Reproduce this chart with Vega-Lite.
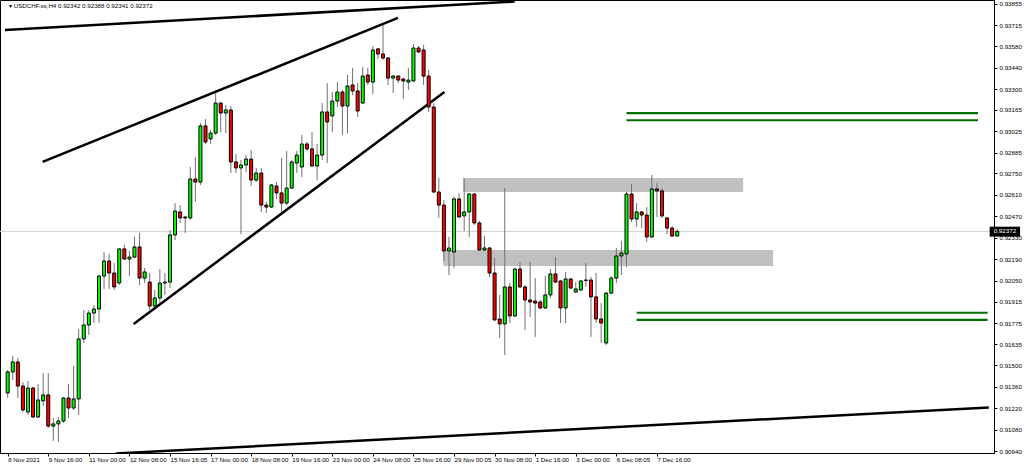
{
  "$schema": "https://vega.github.io/schema/vega-lite/v6.json",
  "width": 994,
  "height": 453,
  "autosize": {"type": "none"},
  "padding": {"left": 0, "top": 0, "right": 30, "bottom": 13},
  "background": "white",
  "config": {"view": {"stroke": "#000000", "strokeWidth": 1}, "font": "Liberation Sans"},
  "datasets": {
    "candles": [
      {"i":0,"o":0.91319,"h":0.91469,"l":0.91286,"c":0.91456},
      {"i":1,"o":0.91456,"h":0.91560,"l":0.91403,"c":0.91521},
      {"i":2,"o":0.91521,"h":0.91547,"l":0.91286,"c":0.91364},
      {"i":3,"o":0.91364,"h":0.91390,"l":0.91195,"c":0.91208},
      {"i":4,"o":0.91195,"h":0.91397,"l":0.91175,"c":0.91351},
      {"i":5,"o":0.91351,"h":0.91358,"l":0.91155,"c":0.91162},
      {"i":6,"o":0.91162,"h":0.91377,"l":0.91155,"c":0.91273},
      {"i":7,"o":0.91267,"h":0.91449,"l":0.91234,"c":0.91306},
      {"i":8,"o":0.91306,"h":0.91449,"l":0.91090,"c":0.91103},
      {"i":9,"o":0.91103,"h":0.91155,"l":0.91006,"c":0.91117},
      {"i":10,"o":0.91117,"h":0.91162,"l":0.90999,"c":0.91136},
      {"i":11,"o":0.91136,"h":0.91293,"l":0.91123,"c":0.91286},
      {"i":12,"o":0.91286,"h":0.91377,"l":0.91155,"c":0.91221},
      {"i":13,"o":0.91221,"h":0.91495,"l":0.91208,"c":0.91280},
      {"i":14,"o":0.91280,"h":0.91736,"l":0.91175,"c":0.91671},
      {"i":15,"o":0.91671,"h":0.91860,"l":0.91645,"c":0.91762},
      {"i":16,"o":0.91762,"h":0.91860,"l":0.91697,"c":0.91840},
      {"i":17,"o":0.91840,"h":0.91892,"l":0.91775,"c":0.91866},
      {"i":18,"o":0.91866,"h":0.92088,"l":0.91775,"c":0.92081},
      {"i":19,"o":0.92081,"h":0.92238,"l":0.91997,"c":0.92179},
      {"i":20,"o":0.92179,"h":0.92225,"l":0.91997,"c":0.92101},
      {"i":21,"o":0.92101,"h":0.92166,"l":0.91990,"c":0.92010},
      {"i":22,"o":0.92036,"h":0.92264,"l":0.92023,"c":0.92258},
      {"i":23,"o":0.92258,"h":0.92284,"l":0.92186,"c":0.92192},
      {"i":24,"o":0.92192,"h":0.92245,"l":0.92081,"c":0.92205},
      {"i":25,"o":0.92205,"h":0.92336,"l":0.92199,"c":0.92271},
      {"i":26,"o":0.92271,"h":0.92362,"l":0.92023,"c":0.92068},
      {"i":27,"o":0.92068,"h":0.92134,"l":0.92036,"c":0.92108},
      {"i":28,"o":0.92042,"h":0.92101,"l":0.91860,"c":0.91886},
      {"i":29,"o":0.91886,"h":0.91990,"l":0.91879,"c":0.91938},
      {"i":30,"o":0.91938,"h":0.92127,"l":0.91905,"c":0.92036},
      {"i":31,"o":0.92036,"h":0.92101,"l":0.91958,"c":0.92042},
      {"i":32,"o":0.92042,"h":0.92381,"l":0.92003,"c":0.92349},
      {"i":33,"o":0.92349,"h":0.92557,"l":0.92316,"c":0.92505},
      {"i":34,"o":0.92499,"h":0.92544,"l":0.92427,"c":0.92460},
      {"i":35,"o":0.92460,"h":0.92473,"l":0.92362,"c":0.92466},
      {"i":36,"o":0.92460,"h":0.92792,"l":0.92447,"c":0.92714},
      {"i":37,"o":0.92714,"h":0.92857,"l":0.92564,"c":0.92694},
      {"i":38,"o":0.92694,"h":0.93079,"l":0.92675,"c":0.93060},
      {"i":39,"o":0.93060,"h":0.93105,"l":0.92942,"c":0.92955},
      {"i":40,"o":0.92975,"h":0.93033,"l":0.92942,"c":0.93013},
      {"i":41,"o":0.93013,"h":0.93275,"l":0.93001,"c":0.93209},
      {"i":42,"o":0.93209,"h":0.93216,"l":0.93020,"c":0.93144},
      {"i":43,"o":0.93144,"h":0.93196,"l":0.93013,"c":0.93164},
      {"i":44,"o":0.93164,"h":0.93190,"l":0.92753,"c":0.92825},
      {"i":45,"o":0.92825,"h":0.92877,"l":0.92753,"c":0.92786},
      {"i":46,"o":0.92786,"h":0.92838,"l":0.92355,"c":0.92805},
      {"i":47,"o":0.92805,"h":0.92870,"l":0.92760,"c":0.92844},
      {"i":48,"o":0.92844,"h":0.92903,"l":0.92668,"c":0.92707},
      {"i":49,"o":0.92707,"h":0.92786,"l":0.92694,"c":0.92753},
      {"i":50,"o":0.92753,"h":0.92786,"l":0.92499,"c":0.92544},
      {"i":51,"o":0.92544,"h":0.92564,"l":0.92492,"c":0.92531},
      {"i":52,"o":0.92531,"h":0.92681,"l":0.92525,"c":0.92675},
      {"i":53,"o":0.92668,"h":0.92694,"l":0.92584,"c":0.92623},
      {"i":54,"o":0.92623,"h":0.92851,"l":0.92499,"c":0.92557},
      {"i":55,"o":0.92557,"h":0.92897,"l":0.92544,"c":0.92655},
      {"i":56,"o":0.92655,"h":0.92838,"l":0.92649,"c":0.92825},
      {"i":57,"o":0.92818,"h":0.92897,"l":0.92753,"c":0.92870},
      {"i":58,"o":0.92792,"h":0.93001,"l":0.92727,"c":0.92942},
      {"i":59,"o":0.92942,"h":0.92955,"l":0.92897,"c":0.92910},
      {"i":60,"o":0.92910,"h":0.93020,"l":0.92792,"c":0.92799},
      {"i":61,"o":0.92799,"h":0.92942,"l":0.92707,"c":0.92870},
      {"i":62,"o":0.92870,"h":0.93209,"l":0.92838,"c":0.93151},
      {"i":63,"o":0.93151,"h":0.93340,"l":0.92818,"c":0.93086},
      {"i":64,"o":0.93125,"h":0.93281,"l":0.93020,"c":0.93222},
      {"i":65,"o":0.93222,"h":0.93346,"l":0.93183,"c":0.93281},
      {"i":66,"o":0.93281,"h":0.93294,"l":0.93001,"c":0.93190},
      {"i":67,"o":0.93190,"h":0.93392,"l":0.93013,"c":0.93320},
      {"i":68,"o":0.93327,"h":0.93438,"l":0.93262,"c":0.93288},
      {"i":69,"o":0.93288,"h":0.93340,"l":0.93118,"c":0.93157},
      {"i":70,"o":0.93209,"h":0.93444,"l":0.93203,"c":0.93385},
      {"i":71,"o":0.93392,"h":0.93438,"l":0.93327,"c":0.93346},
      {"i":72,"o":0.93346,"h":0.93581,"l":0.93268,"c":0.93555},
      {"i":73,"o":0.93562,"h":0.93568,"l":0.93496,"c":0.93529},
      {"i":74,"o":0.93529,"h":0.93718,"l":0.93490,"c":0.93503},
      {"i":75,"o":0.93503,"h":0.93509,"l":0.93327,"c":0.93372},
      {"i":76,"o":0.93372,"h":0.93392,"l":0.93275,"c":0.93385},
      {"i":77,"o":0.93385,"h":0.93392,"l":0.93340,"c":0.93359},
      {"i":78,"o":0.93366,"h":0.93372,"l":0.93236,"c":0.93353},
      {"i":79,"o":0.93346,"h":0.93438,"l":0.93294,"c":0.93359},
      {"i":80,"o":0.93353,"h":0.93594,"l":0.93346,"c":0.93568},
      {"i":81,"o":0.93568,"h":0.93581,"l":0.93535,"c":0.93542},
      {"i":82,"o":0.93555,"h":0.93588,"l":0.93327,"c":0.93385},
      {"i":83,"o":0.93385,"h":0.93425,"l":0.93151,"c":0.93183},
      {"i":84,"o":0.93183,"h":0.93209,"l":0.92623,"c":0.92629},
      {"i":85,"o":0.92629,"h":0.92720,"l":0.92460,"c":0.92544},
      {"i":86,"o":0.92544,"h":0.92577,"l":0.92179,"c":0.92245},
      {"i":87,"o":0.92245,"h":0.92336,"l":0.92088,"c":0.92264},
      {"i":88,"o":0.92238,"h":0.92597,"l":0.92134,"c":0.92584},
      {"i":89,"o":0.92584,"h":0.92623,"l":0.92460,"c":0.92466},
      {"i":90,"o":0.92473,"h":0.92720,"l":0.92375,"c":0.92499},
      {"i":91,"o":0.92499,"h":0.92623,"l":0.92336,"c":0.92616},
      {"i":92,"o":0.92616,"h":0.92623,"l":0.92414,"c":0.92427},
      {"i":93,"o":0.92427,"h":0.92440,"l":0.92245,"c":0.92251},
      {"i":94,"o":0.92251,"h":0.92342,"l":0.92245,"c":0.92264},
      {"i":95,"o":0.92264,"h":0.92271,"l":0.92075,"c":0.92101},
      {"i":96,"o":0.92101,"h":0.92199,"l":0.91788,"c":0.91795},
      {"i":97,"o":0.91801,"h":0.91958,"l":0.91677,"c":0.91769},
      {"i":98,"o":0.91769,"h":0.92655,"l":0.91566,"c":0.92010},
      {"i":99,"o":0.92010,"h":0.92036,"l":0.91775,"c":0.91821},
      {"i":100,"o":0.91821,"h":0.92134,"l":0.91814,"c":0.92127},
      {"i":101,"o":0.92127,"h":0.92173,"l":0.92003,"c":0.92010},
      {"i":102,"o":0.92010,"h":0.92023,"l":0.91729,"c":0.91925},
      {"i":103,"o":0.91925,"h":0.92173,"l":0.91814,"c":0.91912},
      {"i":104,"o":0.91918,"h":0.92068,"l":0.91684,"c":0.91905},
      {"i":105,"o":0.91912,"h":0.91925,"l":0.91866,"c":0.91873},
      {"i":106,"o":0.91873,"h":0.92081,"l":0.91866,"c":0.91958},
      {"i":107,"o":0.91958,"h":0.92127,"l":0.91938,"c":0.92095},
      {"i":108,"o":0.92095,"h":0.92205,"l":0.92036,"c":0.92042},
      {"i":109,"o":0.92049,"h":0.92055,"l":0.91775,"c":0.91873},
      {"i":110,"o":0.91873,"h":0.92108,"l":0.91775,"c":0.92062},
      {"i":111,"o":0.92062,"h":0.92068,"l":0.91997,"c":0.92003},
      {"i":112,"o":0.91977,"h":0.92042,"l":0.91970,"c":0.91997},
      {"i":113,"o":0.91990,"h":0.92055,"l":0.91984,"c":0.92049},
      {"i":114,"o":0.92055,"h":0.92166,"l":0.92010,"c":0.92053},
      {"i":115,"o":0.92055,"h":0.92075,"l":0.91684,"c":0.91945},
      {"i":116,"o":0.91945,"h":0.92101,"l":0.91775,"c":0.91801},
      {"i":117,"o":0.91801,"h":0.91905,"l":0.91645,"c":0.91775},
      {"i":118,"o":0.91645,"h":0.91977,"l":0.91632,"c":0.91970},
      {"i":119,"o":0.91970,"h":0.92081,"l":0.91964,"c":0.92068},
      {"i":120,"o":0.92068,"h":0.92264,"l":0.92036,"c":0.92212},
      {"i":121,"o":0.92212,"h":0.92310,"l":0.92088,"c":0.92231},
      {"i":122,"o":0.92225,"h":0.92629,"l":0.92140,"c":0.92616},
      {"i":123,"o":0.92616,"h":0.92681,"l":0.92434,"c":0.92453},
      {"i":124,"o":0.92453,"h":0.92557,"l":0.92401,"c":0.92499},
      {"i":125,"o":0.92499,"h":0.92505,"l":0.92394,"c":0.92479},
      {"i":126,"o":0.92479,"h":0.92531,"l":0.92303,"c":0.92336},
      {"i":127,"o":0.92336,"h":0.92740,"l":0.92329,"c":0.92649},
      {"i":128,"o":0.92649,"h":0.92688,"l":0.92466,"c":0.92636},
      {"i":129,"o":0.92636,"h":0.92655,"l":0.92460,"c":0.92473},
      {"i":130,"o":0.92460,"h":0.92466,"l":0.92355,"c":0.92394},
      {"i":131,"o":0.92394,"h":0.92407,"l":0.92336,"c":0.92342},
      {"i":132,"o":0.92342,"h":0.92388,"l":0.92341,"c":0.92372}
    ],
    "trendlines": [
      {"i1":-0.53,"p1":0.93685,"i2":99.96,"p2":0.93871},
      {"i1":6.89,"p1":0.92825,"i2":76.94,"p2":0.93764},
      {"i1":24.84,"p1":0.91769,"i2":86.11,"p2":0.93281},
      {"i1":21.33,"p1":0.90924,"i2":193.43,"p2":0.91224}
    ],
    "zones": [
      {"i1":89.8,"i2":145.0,"p1":0.92720,"p2":0.92629},
      {"i1":85.9,"i2":150.9,"p1":0.92251,"p2":0.92147}
    ],
    "levels": [
      {"i1":122.0,"i2":191.3,"p":0.93144},
      {"i1":122.0,"i2":191.3,"p":0.93097},
      {"i1":124.0,"i2":193.2,"p":0.91842},
      {"i1":124.0,"i2":193.2,"p":0.91795}
    ],
    "last": [{"p":0.92372,"label":"0.92372"}],
    "header": [{"label":"▾ USDCHF.ss,H4  0.92342 0.92388 0.92341 0.92372"}]
  },
  "layer": [
    {
      "data": {"name": "last"},
      "mark": {"type": "rule", "color": "#d4d4d4", "strokeWidth": 1},
      "encoding": {
        "y": {"field": "p", "type": "quantitative", "scale": {"domain": [0.909274, 0.93881], "zero": false, "nice": false},
          "axis": {"orient": "right", "title": null, "values": [0.93855,0.93715,0.9358,0.9344,0.933,0.93165,0.93025,0.92885,0.9275,0.9261,0.9247,0.9233,0.9219,0.9205,0.91915,0.91775,0.91635,0.915,0.9136,0.9122,0.9108,0.9094], "tickCount": 40, "format": ".5f", "grid": false, "domainColor": "#000000", "tickColor": "#000000", "tickSize": 3, "labelPadding": 2, "labelFontSize": 6.2, "labelColor": "#000000", "labelFont": "Liberation Sans", "labelOverlap": false, "labelBound": false}}
      }
    },
    {
      "data": {"name": "zones"},
      "mark": {"type": "rect", "color": "#c0c0c0", "clip": true},
      "encoding": {
        "x": {"field": "i1", "type": "quantitative", "scale": {"domain": [-0.527, 193.47], "zero": false, "nice": false},
          "axis": {"orient": "bottom", "title": null, "values": [0,8,16,24,32,40,48,56,64,72,80,88,96,104,112,120,128], "tickCount": 40, "labelExpr": "['8 Nov 2021','9 Nov 16:00','11 Nov 00:00','12 Nov 08:00','15 Nov 16:05','17 Nov 00:00','18 Nov 08:00','19 Nov 16:00','23 Nov 00:00','24 Nov 08:00','25 Nov 16:00','29 Nov 00:05','30 Nov 08:00','1 Dec 16:00','3 Dec 00:00','6 Dec 08:05','7 Dec 16:00'][round(datum.value/8)]", "labelAlign": "left", "labelPadding": 0, "tickSize": 3, "grid": false, "domainColor": "#000000", "tickColor": "#000000", "labelFontSize": 6.2, "labelColor": "#000000", "labelFont": "Liberation Sans", "labelOverlap": false, "labelBound": false, "labelFlush": false}},
        "x2": {"field": "i2"},
        "y": {"field": "p1", "type": "quantitative"},
        "y2": {"field": "p2"}
      }
    },
    {
      "data": {"name": "trendlines"},
      "mark": {"type": "rule", "color": "#000000", "strokeWidth": 2.5, "clip": true},
      "encoding": {
        "x": {"field": "i1", "type": "quantitative"},
        "x2": {"field": "i2"},
        "y": {"field": "p1", "type": "quantitative"},
        "y2": {"field": "p2"}
      }
    },
    {
      "data": {"name": "levels"},
      "mark": {"type": "rule", "color": "#007000", "strokeWidth": 2.2, "clip": false},
      "encoding": {
        "x": {"field": "i1", "type": "quantitative"},
        "x2": {"field": "i2"},
        "y": {"field": "p", "type": "quantitative"}
      }
    },
    {
      "data": {"name": "candles"},
      "mark": {"type": "rule", "color": "#707070", "strokeWidth": 1},
      "encoding": {
        "x": {"field": "i", "type": "quantitative"},
        "y": {"field": "l", "type": "quantitative"},
        "y2": {"field": "h"}
      }
    },
    {
      "data": {"name": "candles"},
      "mark": {"type": "bar", "size": 3, "stroke": "#000000", "strokeWidth": 1},
      "encoding": {
        "x": {"field": "i", "type": "quantitative"},
        "y": {"field": "o", "type": "quantitative"},
        "y2": {"field": "c"},
        "fill": {"condition": {"test": "datum.c >= datum.o", "value": "#00ff00"}, "value": "#ff0000"}
      }
    },
    {
      "data": {"name": "last"},
      "mark": {"type": "rect", "color": "#000000", "clip": false},
      "encoding": {
        "x": {"datum": 193.6, "type": "quantitative"},
        "x2": {"datum": 199.6},
        "y": {"datum": 0.92403, "type": "quantitative"},
        "y2": {"datum": 0.92338}
      }
    },
    {
      "data": {"name": "last"},
      "mark": {"type": "text", "color": "#ffffff", "align": "left", "baseline": "middle", "fontSize": 6.2, "font": "Liberation Sans", "clip": false, "dx": 1},
      "encoding": {
        "x": {"datum": 194.2, "type": "quantitative"},
        "y": {"field": "p", "type": "quantitative"},
        "text": {"field": "label"}
      }
    },
    {
      "data": {"name": "header"},
      "mark": {"type": "text", "color": "#000000", "align": "left", "baseline": "middle", "fontSize": 6.2, "font": "Liberation Sans", "clip": false},
      "encoding": {
        "x": {"datum": 0.25, "type": "quantitative"},
        "y": {"datum": 0.93840, "type": "quantitative"},
        "text": {"field": "label"}
      }
    }
  ]
}
